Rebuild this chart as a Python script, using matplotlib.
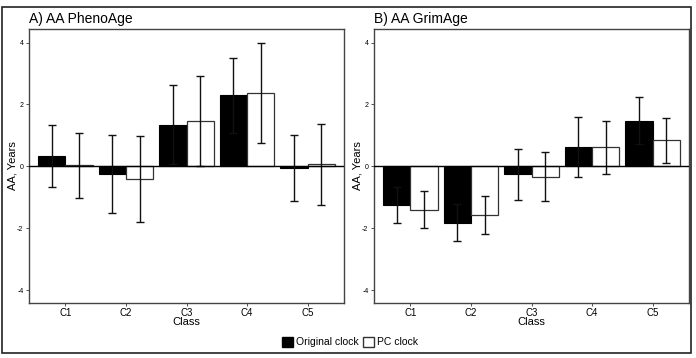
import numpy as np
import matplotlib
matplotlib.use("Agg")
import matplotlib.pyplot as plt
from matplotlib.patches import Patch, Rectangle

plt.rcParams["font.family"] = ["Liberation Sans", "DejaVu Sans"]

classes = ["C1", "C2", "C3", "C4", "C5"]

pheno_orig = [0.32, -0.25, 1.35, 2.29, -0.06]
pheno_orig_err = [1.0, 1.25, 1.28, 1.2, 1.07]
pheno_pc = [0.03, -0.41, 1.47, 2.37, 0.06]
pheno_pc_err = [1.06, 1.38, 1.46, 1.63, 1.31]

grim_orig = [-1.24, -1.83, -0.26, 0.61, 1.47]
grim_orig_err = [0.58, 0.6, 0.83, 0.97, 0.76]
grim_pc = [-1.40, -1.57, -0.33, 0.61, 0.84]
grim_pc_err = [0.6, 0.62, 0.8, 0.86, 0.73]

W, H = 696, 358
fig = plt.figure(figsize=(W / 100, H / 100), dpi=100)

# outer frame around the whole figure
fig.patches.append(Rectangle((2 / W, 5 / H), 689 / W, 346 / H, transform=fig.transFigure,
                             fill=False, edgecolor="#222222", linewidth=1.2))


def panel(left, title, orig, orig_err, pc, pc_err):
    ax = fig.add_axes([left / W, 55 / H, 315 / W, 274 / H])
    x = np.arange(1, len(classes) + 1)
    bw = 0.45
    ax.bar(x - bw / 2, orig, bw, color="black", edgecolor="black", linewidth=0.8, zorder=2)
    ax.bar(x + bw / 2, pc, bw, color="white", edgecolor="#333333", linewidth=0.9, zorder=2)
    ax.errorbar(x - bw / 2, orig, yerr=orig_err, fmt="none", ecolor="#111111",
                elinewidth=1.0, capsize=2.6, capthick=1.0, zorder=3)
    ax.errorbar(x + bw / 2, pc, yerr=pc_err, fmt="none", ecolor="#111111",
                elinewidth=1.0, capsize=2.6, capthick=1.0, zorder=3)
    ax.axhline(0, color="black", linewidth=1.0, zorder=4)
    ax.set_xlim(0.4, 5.6)
    ax.set_ylim(-4.42, 4.44)
    ax.set_yticks([-4, -2, 0, 2, 4])
    ax.set_yticklabels(["-4", "-2", "0", "2", "4"])
    ax.set_xticks(x)
    ax.set_xticklabels(classes)
    ax.tick_params(axis="y", labelsize=5, length=2.5, width=0.6, pad=1.5, color="#333333")
    ax.tick_params(axis="x", labelsize=7, length=2.5, width=0.6, pad=1.0, color="#333333")
    for s in ax.spines.values():
        s.set_color("#444444")
        s.set_linewidth(1.0)
    ax.set_xlabel("Class", fontsize=8, labelpad=-0.5)
    ax.set_ylabel("AA, Years", fontsize=8)
    ax.yaxis.set_label_coords(-0.037, 0.5)
    fig.text(left / W, 1 - 23.5 / H, title, fontsize=10, va="baseline", ha="left")
    return ax


panel(29, "A) AA PhenoAge", pheno_orig, pheno_orig_err, pheno_pc, pheno_pc_err)
panel(374, "B) AA GrimAge", grim_orig, grim_orig_err, grim_pc, grim_pc_err)

handles = [Patch(facecolor="black", edgecolor="black", label="Original clock"),
           Patch(facecolor="white", edgecolor="#333333", label="PC clock")]
fig.legend(handles=handles, loc="center", bbox_to_anchor=(350 / W, 1 - 342 / H), ncol=2,
           frameon=False, fontsize=7.5, handlelength=1.1, handleheight=1.1,
           handletextpad=0.3, columnspacing=0.4, borderpad=0)

fig.savefig("out.png", dpi=100)
